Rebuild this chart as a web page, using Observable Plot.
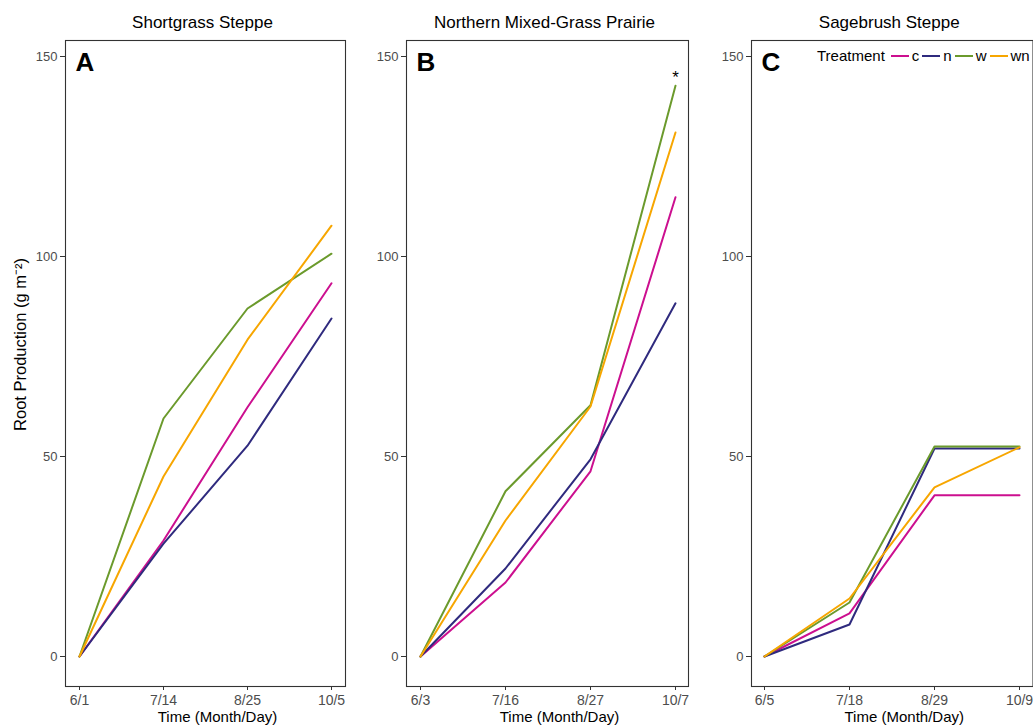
<!DOCTYPE html>
<html>
<head>
<meta charset="utf-8">
<script src="https://cdn.jsdelivr.net/npm/d3@7"></script>
<script src="https://cdn.jsdelivr.net/npm/@observablehq/plot@0.6"></script>
<style>
  body { margin: 0; background: white; font-family: "Liberation Sans", Arial, sans-serif; }
  #chart { position: relative; width: 1033px; height: 725px; overflow: hidden; background: white; }
  #chart svg { position: absolute; top: 0; }
  #legend { position: absolute; left: 817px; top: 47px; display: flex; align-items: center; font-size: 15px; color: #000; white-space: nowrap; }
  #legend .sw { display: inline-block; width: 18px; height: 2px; margin: 0 3px 0 3px; }
</style>
</head>
<body>
<div id="chart"></div>
<script>
// ---- data ----
const treatments = ["c", "n", "w", "wn"];
const treatmentColors = ["#cc0f8f", "#2f2a7e", "#6b9a2c", "#f7a600"];

const titles = ["Shortgrass Steppe", "Northern Mixed-Grass Prairie", "Sagebrush Steppe"];
const letters = ["A", "B", "C"];

const datesA = ["6/1", "7/14", "8/25", "10/5"];
const datesB = ["6/3", "7/16", "8/27", "10/7"];
const datesC = ["6/5", "7/18", "8/29", "10/9"];

// Shortgrass Steppe
const sgs_c  = [0, 29.0, 62.3, 93.3];
const sgs_n  = [0, 28.2, 52.7, 84.5];
const sgs_w  = [0, 59.5, 87.0, 100.7];
const sgs_wn = [0, 45.0, 79.2, 107.7];

// Northern Mixed-Grass Prairie
const nmp_c  = [0, 18.5, 46.3, 114.8];
const nmp_n  = [0, 22.0, 49.3, 88.3];
const nmp_w  = [0, 41.3, 62.8, 142.7];
const nmp_wn = [0, 34.0, 62.5, 131.0];

// Sagebrush Steppe
const sbs_c  = [0, 10.8, 40.3, 40.3];
const sbs_n  = [0, 8.0, 52.0, 52.0];
const sbs_w  = [0, 13.5, 52.5, 52.5];
const sbs_wn = [0, 14.5, 42.3, 52.3];

// significance marker (panel B, last date)
const starB = [{date: "10/7", value: 144.8, label: "*"}];

const yTicks = [0, 50, 100, 150];

// ---- build ----
function rows(dates, seriesList) {
  const out = [];
  seriesList.forEach((vals, i) => {
    vals.forEach((v, j) => out.push({date: dates[j], treatment: treatments[i], value: v}));
  });
  return out;
}

const panels = [
  {dates: datesA, data: rows(datesA, [sgs_c, sgs_n, sgs_w, sgs_wn]), left: 0, width: 350, marginLeft: 65, marginRight: 5, ylabel: true, star: null},
  {dates: datesB, data: rows(datesB, [nmp_c, nmp_n, nmp_w, nmp_wn]), left: 350, width: 345, marginLeft: 56, marginRight: 7, ylabel: false, star: starB},
  {dates: datesC, data: rows(datesC, [sbs_c, sbs_n, sbs_w, sbs_wn]), left: 695, width: 338, marginLeft: 56, marginRight: 0.5, ylabel: false, star: null}
];

const chart = document.getElementById("chart");
const font = "Liberation Sans, Arial, Helvetica, sans-serif";

panels.forEach((p, i) => {
  const marks = [
    Plot.axisY({ticks: yTicks, tickSize: 5, tickPadding: 3, stroke: "#333", fill: "#4d4d4d", fontSize: 13, label: null}),
    Plot.axisX({tickSize: 4, tickPadding: 5, stroke: "#333", fill: "#4d4d4d", fontSize: 14, label: null}),
    Plot.line(p.data, {x: "date", y: "value", z: "treatment", stroke: "treatment", strokeWidth: 2}),
    Plot.frame({stroke: "#333", strokeWidth: 1.1}),
    Plot.text([letters[i]], {frameAnchor: "top-left", dx: 10, dy: 22, text: d => d, fontSize: 26, fontWeight: "bold", fill: "black", textAnchor: "start", lineAnchor: "middle"}),
    Plot.text([titles[i]], {frameAnchor: "top", dx: -3, dy: -18, text: d => d, fontSize: 17, fill: "black", lineAnchor: "middle"}),
    Plot.text(["Time (Month/Day)"], {frameAnchor: "bottom", dx: 12, dy: 31, text: d => d, fontSize: 15, fill: "black", lineAnchor: "middle"})
  ];
  if (p.ylabel) {
    marks.push(Plot.text(["Root Production (g m\u207B\u00B2)"], {frameAnchor: "left", dx: -45, dy: -19, text: d => d, rotate: -90, textAnchor: "middle", fontSize: 16.5, fill: "black", lineAnchor: "middle"}));
  }
  if (p.star) {
    marks.push(Plot.text(p.star, {x: "date", y: "value", text: "label", fontSize: 17, fill: "black", lineAnchor: "middle"}));
  }
  const svg = Plot.plot({
    width: p.width,
    height: 725,
    marginLeft: p.marginLeft,
    marginRight: p.marginRight,
    marginTop: 40,
    marginBottom: 39,
    style: {fontFamily: font, fontSize: "13px", background: "transparent", overflow: "visible"},
    x: {type: "point", domain: p.dates, padding: 0.155},
    y: {domain: [-7.5, 154]},
    color: {domain: treatments, range: treatmentColors},
    marks
  });
  svg.style.left = p.left + "px";
  chart.appendChild(svg);
});

// legend (inside panel C)
const legend = document.createElement("div");
legend.id = "legend";
const lt = document.createElement("span");
lt.textContent = "Treatment";
lt.style.marginRight = "3px";
legend.appendChild(lt);
treatments.forEach((t, i) => {
  const sw = document.createElement("span");
  sw.className = "sw";
  sw.style.background = treatmentColors[i];
  legend.appendChild(sw);
  const lab = document.createElement("span");
  lab.textContent = t;
  legend.appendChild(lab);
});
chart.appendChild(legend);
</script>
</body>
</html>
